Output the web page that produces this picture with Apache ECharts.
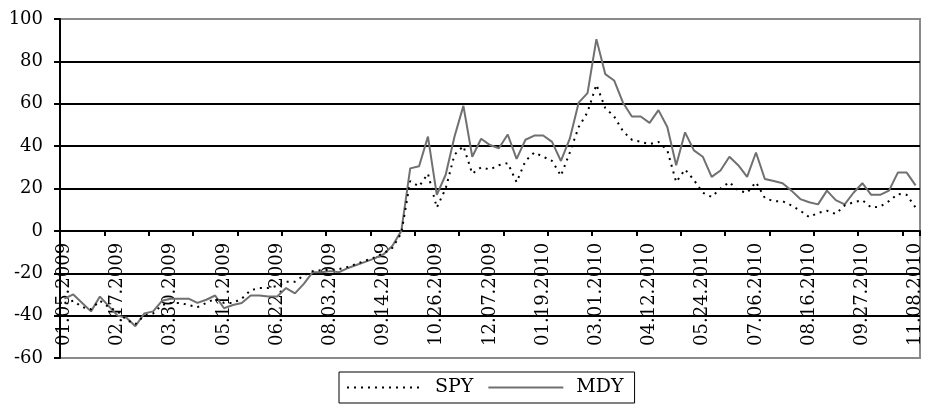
<!DOCTYPE html>
<html>
<head>
<meta charset="utf-8">
<title>SPY / MDY</title>
<script src="https://cdn.jsdelivr.net/npm/echarts@6/dist/echarts.min.js"></script>
<style>
	html,body{margin:0;padding:0;background:#fff;}
	#app_line_chart{width:925px;height:405px;}
</style>
</head>
<body>
<div id="app_line_chart"></div>
<script>
// weekly dates (first trading day of each week)
var dates = [
	'01.05.2009','01.12.2009','01.20.2009','01.26.2009','02.02.2009','02.09.2009','02.17.2009','02.23.2009',
	'03.02.2009','03.09.2009','03.16.2009','03.23.2009','03.30.2009','04.06.2009','04.13.2009','04.20.2009',
	'04.27.2009','05.04.2009','05.11.2009','05.18.2009','05.26.2009','06.01.2009','06.08.2009','06.15.2009',
	'06.22.2009','06.29.2009','07.06.2009','07.13.2009','07.20.2009','07.27.2009','08.03.2009','08.10.2009',
	'08.17.2009','08.24.2009','08.31.2009','09.08.2009','09.14.2009','09.21.2009','09.28.2009','10.05.2009',
	'10.12.2009','10.19.2009','10.26.2009','11.02.2009','11.09.2009','11.16.2009','11.23.2009','11.30.2009',
	'12.07.2009','12.14.2009','12.21.2009','12.28.2009',
	'01.04.2010','01.11.2010','01.19.2010','01.25.2010','02.01.2010','02.08.2010','02.16.2010','02.22.2010',
	'03.01.2010','03.08.2010','03.15.2010','03.22.2010','03.29.2010','04.05.2010','04.12.2010','04.19.2010',
	'04.26.2010','05.03.2010','05.10.2010','05.17.2010','05.24.2010','06.01.2010','06.07.2010','06.14.2010',
	'06.21.2010','06.28.2010','07.06.2010','07.12.2010','07.19.2010','07.26.2010','08.02.2010','08.09.2010',
	'08.16.2010','08.23.2010','08.30.2010','09.07.2010','09.13.2010','09.20.2010','09.27.2010','10.04.2010',
	'10.11.2010','10.18.2010','10.25.2010','11.01.2010','11.08.2010'
];

var spy = [
	-34,-33,-36,-37,-33,-36,-38,-42,-44,-40,-39,-35,-34,-34,-35,-36,
	-34,-32,-34,-34,-32,-28,-27,-27,-26,-24,-24,-21,-19,-18.5,-18.5,-18,
	-17,-15.5,-14,-12.5,-10.5,-8,-1,23.5,21,27,11,20,36,40,27,30,
	29,31,32,23,33,37,35,33,26,37,49,56,69,58,54,47,
	43,42,41,42,38,23,29,24,18,16,20,23,19,18,23,15.5,
	14,14,12,9.5,6.5,8.5,9.5,8,12,13.5,14.5,11,11.5,14,17.5,17,
	11
];

var mdy = [
	-32,-30,-34,-38,-31,-35.5,-40,-41,-45,-39,-38,-33,-32,-32,-32,-34,
	-32.5,-30.5,-36.5,-35,-34,-30.5,-30.5,-31,-31,-27,-29.5,-25,-19.5,-19.5,-19,-19.5,
	-17.5,-16,-14.5,-13,-11,-7,0,29.5,30.5,44.5,17,26.5,44.5,59,35,43.5,
	40.5,39,45.5,34,43,45,45,42,33,43.5,60.5,65,90.5,74,71,60.5,
	54,54,51,57,49,31,46.5,38,35,25.5,28.5,35,31,25.5,37,24.5,
	23.5,22.5,19,15,13.5,12.5,19,14.5,12.5,18,22.5,17,17,19,27.5,27.5,
	21.5
];

var yTicks = [-60,-40,-20,0,20,40,60,80,100];

var FONT = 'DejaVu Serif';
var H = 405, TOP = 19, BOTTOM = 47;
var yMin = yTicks[0], yMax = yTicks[yTicks.length - 1];

// pixel row of the zero line: the date axis is the bottom edge of a grid that ends there
var zeroTop = TOP + (H - TOP - BOTTOM) * yMax / (yMax - yMin);

// top and bottom gridlines are the grey plot frame, the rest black
var splitColors = [];
for (var i = 0; i < yTicks.length; i++) {
	splitColors.push(i == 0 || i == yTicks.length - 1 ? '#8a8a8a' : '#000');
}

var option = {
	animation:false,
	backgroundColor:'#fff',
	grid:[
		{
			left:60, right:5, top:TOP, bottom:BOTTOM,
			containLabel:false, outerBoundsMode:'none',
			show:true, borderColor:'#8a8a8a', borderWidth:2
		},
		{
			left:60, right:5, top:TOP, bottom:H - zeroTop,
			containLabel:false, outerBoundsMode:'none',
			show:false
		}
	],
	legend:{
		left:339,
		top:372,
		padding:[6,11,6,7],
		itemGap:14,
		itemWidth:75,
		itemHeight:14,
		borderColor:'#000',
		borderWidth:1,
		itemStyle:{opacity:0},
		textStyle:{fontFamily:FONT,fontSize:19,color:'#000',padding:[0,0,0,8]},
		data:['SPY','MDY']
	},
	xAxis:[
		{
			gridIndex:0,
			type:'category',
			data:dates,
			boundaryGap:true,
			axisLine:{show:false},
			axisTick:{show:false},
			axisLabel:{show:false},
			splitLine:{show:false}
		},
		{
			gridIndex:1,
			type:'category',
			data:dates,
			boundaryGap:true,
			axisLine:{show:true,onZero:false,lineStyle:{color:'#000',width:2}},
			axisTick:{show:true,interval:4,length:5,lineStyle:{color:'#000',width:2}},
			axisLabel:{
				interval:5,
				rotate:90,
				margin:12,
				hideOverlap:false,
				color:'#000',
				fontFamily:FONT,
				fontSize:18
			},
			splitLine:{show:false}
		}
	],
	yAxis:[
		{
			gridIndex:0,
			type:'value',
			min:yMin,
			max:yMax,
			interval:20,
			axisLine:{show:true,onZero:false,lineStyle:{color:'#000',width:2}},
			axisTick:{show:true,length:6,lineStyle:{color:'#000',width:2}},
			axisLabel:{color:'#000',fontFamily:FONT,fontSize:18,margin:17},
			splitLine:{show:true,lineStyle:{color:splitColors,width:2}}
		},
		{
			gridIndex:1,
			type:'value',
			show:false
		}
	],
	series:[
		{
			name:'SPY',
			type:'line',
			xAxisIndex:0,
			yAxisIndex:0,
			data:spy,
			symbol:'none',
			lineStyle:{color:'#000',width:2,type:[2,5]},
			itemStyle:{color:'#000'},
			z:3
		},
		{
			name:'MDY',
			type:'line',
			xAxisIndex:0,
			yAxisIndex:0,
			data:mdy,
			symbol:'none',
			lineStyle:{color:'#707070',width:2},
			itemStyle:{color:'#707070'},
			z:2
		}
	]
};

var lineChart = echarts.init(document.getElementById('app_line_chart'));
lineChart.setOption(option);
</script>
</body>
</html>
